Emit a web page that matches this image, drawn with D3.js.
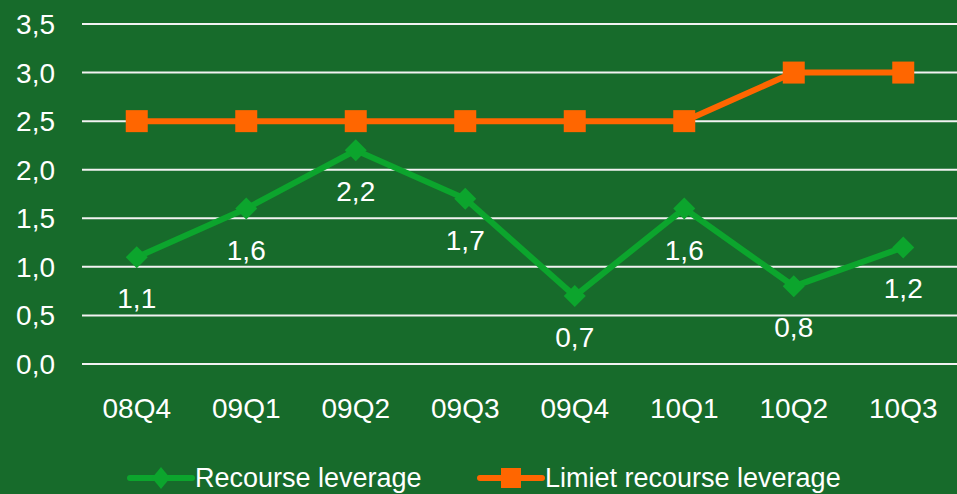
<!DOCTYPE html>
<html lang="en">
<head>
	<meta charset="UTF-8">
	<title>Recourse leverage</title>
	<script src="https://cdn.jsdelivr.net/npm/d3@7"></script>
	<style>
		body { margin: 0; background: #176b2b; }
		text { font-family: "Liberation Sans", Arial, sans-serif; fill: #fff; }
	</style>
</head>
<body>
	<div id="container"></div>
	<script>
		var quarters = ["08Q4", "09Q1", "09Q2", "09Q3", "09Q4", "10Q1", "10Q2", "10Q3"];
		var recourse = [1.1, 1.6, 2.2, 1.7, 0.7, 1.6, 0.8, 1.2];
		var limiet = [2.5, 2.5, 2.5, 2.5, 2.5, 2.5, 3.0, 3.0];
		var yTicks = [0, 0.5, 1, 1.5, 2, 2.5, 3, 3.5];
		var seriesNames = ["Recourse leverage", "Limiet recourse leverage"];

		var width = 957, height = 494;
		var green = "#0ca52d", orange = "#ff6600";

		var svg = d3.select("#container").append("svg")
				.attr("width", width)
				.attr("height", height);

		svg.append("rect").attr("width", width).attr("height", height).attr("fill", "#176b2b");

		var x = d3.scaleBand().domain(quarters).range([82, 958]);
		var y = d3.scaleLinear().domain([0, 3.5]).range([364, 24]);
		var fmt = function(v) { return d3.format(".1f")(v).replace(".", ","); };
		var cx = function(d, i) { return x(quarters[i]) + x.bandwidth() / 2; };

		// gridlines
		svg.selectAll(".grid").data(yTicks)
			.enter().append("line")
				.attr("x1", 82).attr("x2", width)
				.attr("y1", d => y(d)).attr("y2", d => y(d))
				.style("stroke", "#f2f2f2").style("stroke-width", 2);

		// y labels
		svg.selectAll(".ylab").data(yTicks)
			.enter().append("text")
				.attr("x", 55).attr("y", d => y(d) + 10)
				.attr("text-anchor", "end")
				.style("font-size", "28px")
				.text(fmt);

		// x labels
		svg.selectAll(".xlab").data(quarters)
			.enter().append("text")
				.attr("x", d => x(d) + x.bandwidth() / 2).attr("y", 418)
				.attr("text-anchor", "middle")
				.style("font-size", "28px")
				.text(d => d);

		var line = d3.line().x(cx).y(d => y(d));

		svg.append("path").datum(limiet)
			.attr("d", line).attr("fill", "none")
			.style("stroke", orange).style("stroke-width", 6);
		svg.selectAll(".sq").data(limiet)
			.enter().append("rect")
				.attr("x", (d, i) => cx(d, i) - 11).attr("y", d => y(d) - 11)
				.attr("width", 22).attr("height", 22)
				.attr("fill", orange);

		svg.append("path").datum(recourse)
			.attr("d", line).attr("fill", "none")
			.style("stroke", green).style("stroke-width", 6);
		svg.selectAll(".dia").data(recourse)
			.enter().append("path")
				.attr("d", (d, i) => { var px = cx(d, i), py = y(d);
					return "M" + px + "," + (py - 11) + "L" + (px + 11) + "," + py + "L" + px + "," + (py + 11) + "L" + (px - 11) + "," + py + "Z"; })
				.attr("fill", green);

		svg.selectAll(".dlab").data(recourse)
			.enter().append("text")
				.attr("x", cx).attr("y", d => y(d) + 51)
				.attr("text-anchor", "middle")
				.style("font-size", "28px")
				.text(fmt);

		// legend
		var legend = [{ name: seriesNames[0], color: green, x0: 130, shape: "d" },
			{ name: seriesNames[1], color: orange, x0: 480, shape: "s" }];
		var lg = svg.selectAll(".leg").data(legend).enter().append("g")
				.attr("transform", d => "translate(" + d.x0 + ",478)");
		lg.append("line").attr("x1", 0).attr("x2", 62).attr("y1", 0).attr("y2", 0)
			.style("stroke", d => d.color).style("stroke-width", 6).style("stroke-linecap", "round");
		lg.append("path")
			.attr("d", d => d.shape == "d" ? "M31,-11L40,0L31,11L22,0Z" : "M21,-10H41V10H21Z")
			.attr("fill", d => d.color);
		lg.append("text").attr("x", 65).attr("y", 9)
			.style("font-size", "27px")
			.text(d => d.name);
	</script>
</body>
</html>
